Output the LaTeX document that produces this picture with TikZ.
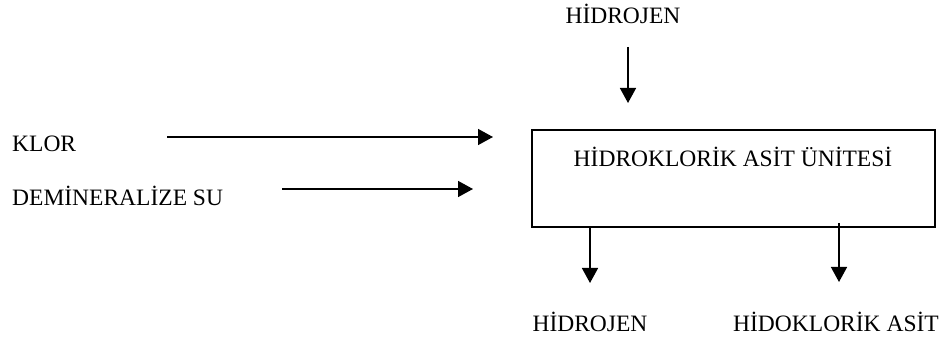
\documentclass[tikz,border=0pt]{standalone}
\usepackage{fontspec}
\setmainfont{Liberation Serif}
\usetikzlibrary{arrows.meta}
\begin{document}
\begin{tikzpicture}[x=1pt,y=-1pt,
  lbl/.style={inner sep=0pt, font=\fontsize{23.5}{26}\selectfont},
  flow/.style={line width=1.5pt, -{Triangle[width=16pt,length=15pt]}},
  unit/.style={draw, line width=1.5pt, minimum width=403pt, minimum height=97pt, inner sep=0pt}]
\useasboundingbox (0,0) rectangle (948,344);
\node[unit] (box) at (733.5,178.5) {};
\node[lbl] (boxt) at (733,157) {HİDROKLORİK ASİT ÜNİTESİ};
\node[lbl] (h2in) at (623,14) {HİDROJEN};
\coordinate (h2s) at (628,47);
\draw[flow] (h2s) -- (628,103);
\node[lbl, anchor=west] (klor) at (12,144) {KLOR};
\coordinate (klors) at (167,137);
\coordinate (klore) at (493,137);
\draw[flow] (klors) -- (klore);
\node[lbl, anchor=west] (su) at (12,196) {DEMİNERALİZE SU};
\coordinate (sus) at (282,189);
\coordinate (sue) at (473,189);
\draw[flow] (sus) -- (sue);
\coordinate (o1s) at (590,227);
\coordinate (o1e) at (590,283);
\draw[flow] (o1s) -- (o1e);
\coordinate (o2s) at (839,223);
\coordinate (o2e) at (839,282);
\draw[flow] (o2s) -- (o2e);
\node[lbl] (h2out) at (590,322) {HİDROJEN};
\node[lbl] (hcl) at (836,322) {HİDOKLORİK ASİT};
\end{tikzpicture}
\end{document}
